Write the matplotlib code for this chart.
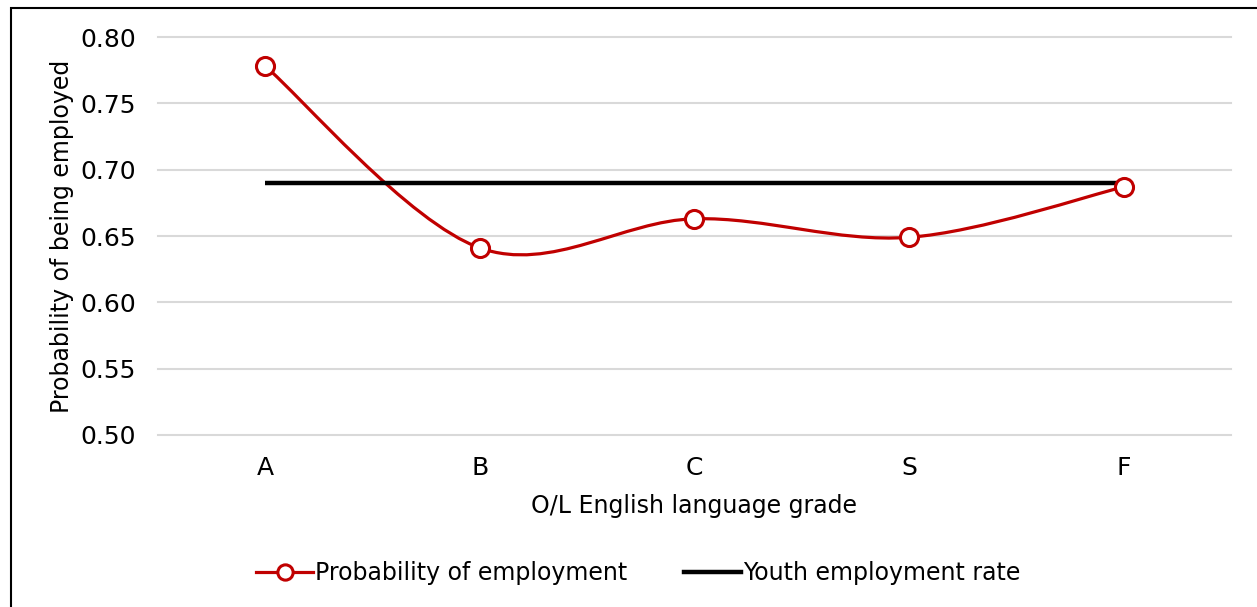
import matplotlib.pyplot as plt
from matplotlib.path import Path
from matplotlib.patches import PathPatch, Rectangle
from matplotlib.lines import Line2D

grades = ['A', 'B', 'C', 'S', 'F']
prob_employment = [0.778, 0.641, 0.663, 0.649, 0.687]
youth_rate = [0.690, 0.690, 0.690, 0.690, 0.690]

red = '#c00000'

fig = plt.figure(figsize=(12.57, 6.07), dpi=100)
ax = fig.add_axes([0.1257, 0.2834, 0.8536, 0.6556])

x = list(range(len(grades)))

# smoothed line like excel (bezier through the points)
verts = [(x[0], prob_employment[0])]
codes = [Path.MOVETO]
n = len(x)
for i in range(n - 1):
    p0 = (x[max(i - 1, 0)], prob_employment[max(i - 1, 0)])
    p1 = (x[i], prob_employment[i])
    p2 = (x[i + 1], prob_employment[i + 1])
    p3 = (x[min(i + 2, n - 1)], prob_employment[min(i + 2, n - 1)])
    c1 = (p1[0] + (p2[0] - p0[0]) / 6, p1[1] + (p2[1] - p0[1]) / 6)
    c2 = (p2[0] - (p3[0] - p1[0]) / 6, p2[1] - (p3[1] - p1[1]) / 6)
    verts += [c1, c2, p2]
    codes += [Path.CURVE4] * 3
ax.add_patch(PathPatch(Path(verts, codes), fill=False, edgecolor=red, lw=2.3, zorder=3))

ax.plot(x, youth_rate, color='black', lw=3.2, zorder=4, solid_capstyle='butt')
ax.plot(x, prob_employment, ls='none', marker='o', ms=13, mfc='white', mec=red, mew=2.2, zorder=5)

ax.set_xlim(-0.5, n - 0.5)
ax.set_ylim(0.5, 0.8)
ax.set_yticks([0.50, 0.55, 0.60, 0.65, 0.70, 0.75, 0.80])
ax.set_yticklabels(['%.2f' % v for v in ax.get_yticks()])
ax.set_xticks(x)
ax.set_xticklabels(grades)
ax.tick_params(length=0, labelsize=18)
ax.tick_params(axis='x', pad=15)
ax.tick_params(axis='y', pad=16)
ax.grid(axis='y', color='#d9d9d9', lw=1.5)
for gl in ax.get_ygridlines():
    gl.set_clip_on(False)
ax.set_axisbelow(True)
for s in ax.spines.values():
    s.set_visible(False)

ax.set_xlabel('O/L English language grade', fontsize=17, labelpad=10)
ax.set_ylabel('Probability of being employed', fontsize=17, labelpad=4)

handles = [
    Line2D([], [], color=red, lw=2.3, marker='o', ms=11, mfc='white', mec=red, mew=2.2),
    Line2D([], [], color='black', lw=3.2),
]
fig.legend(handles, ['Probability of employment', 'Youth employment rate'],
           loc='center', bbox_to_anchor=(0.508, 0.056), ncol=2, frameon=False,
           fontsize=17, handlelength=2.4, handletextpad=0.1, columnspacing=2.4)

fig.add_artist(Rectangle((11 / 1257, -0.05), 1.2, 1 - 8 / 607 + 0.05,
                         transform=fig.transFigure, fill=False, edgecolor='black', lw=1.5))

fig.savefig('out.png')
